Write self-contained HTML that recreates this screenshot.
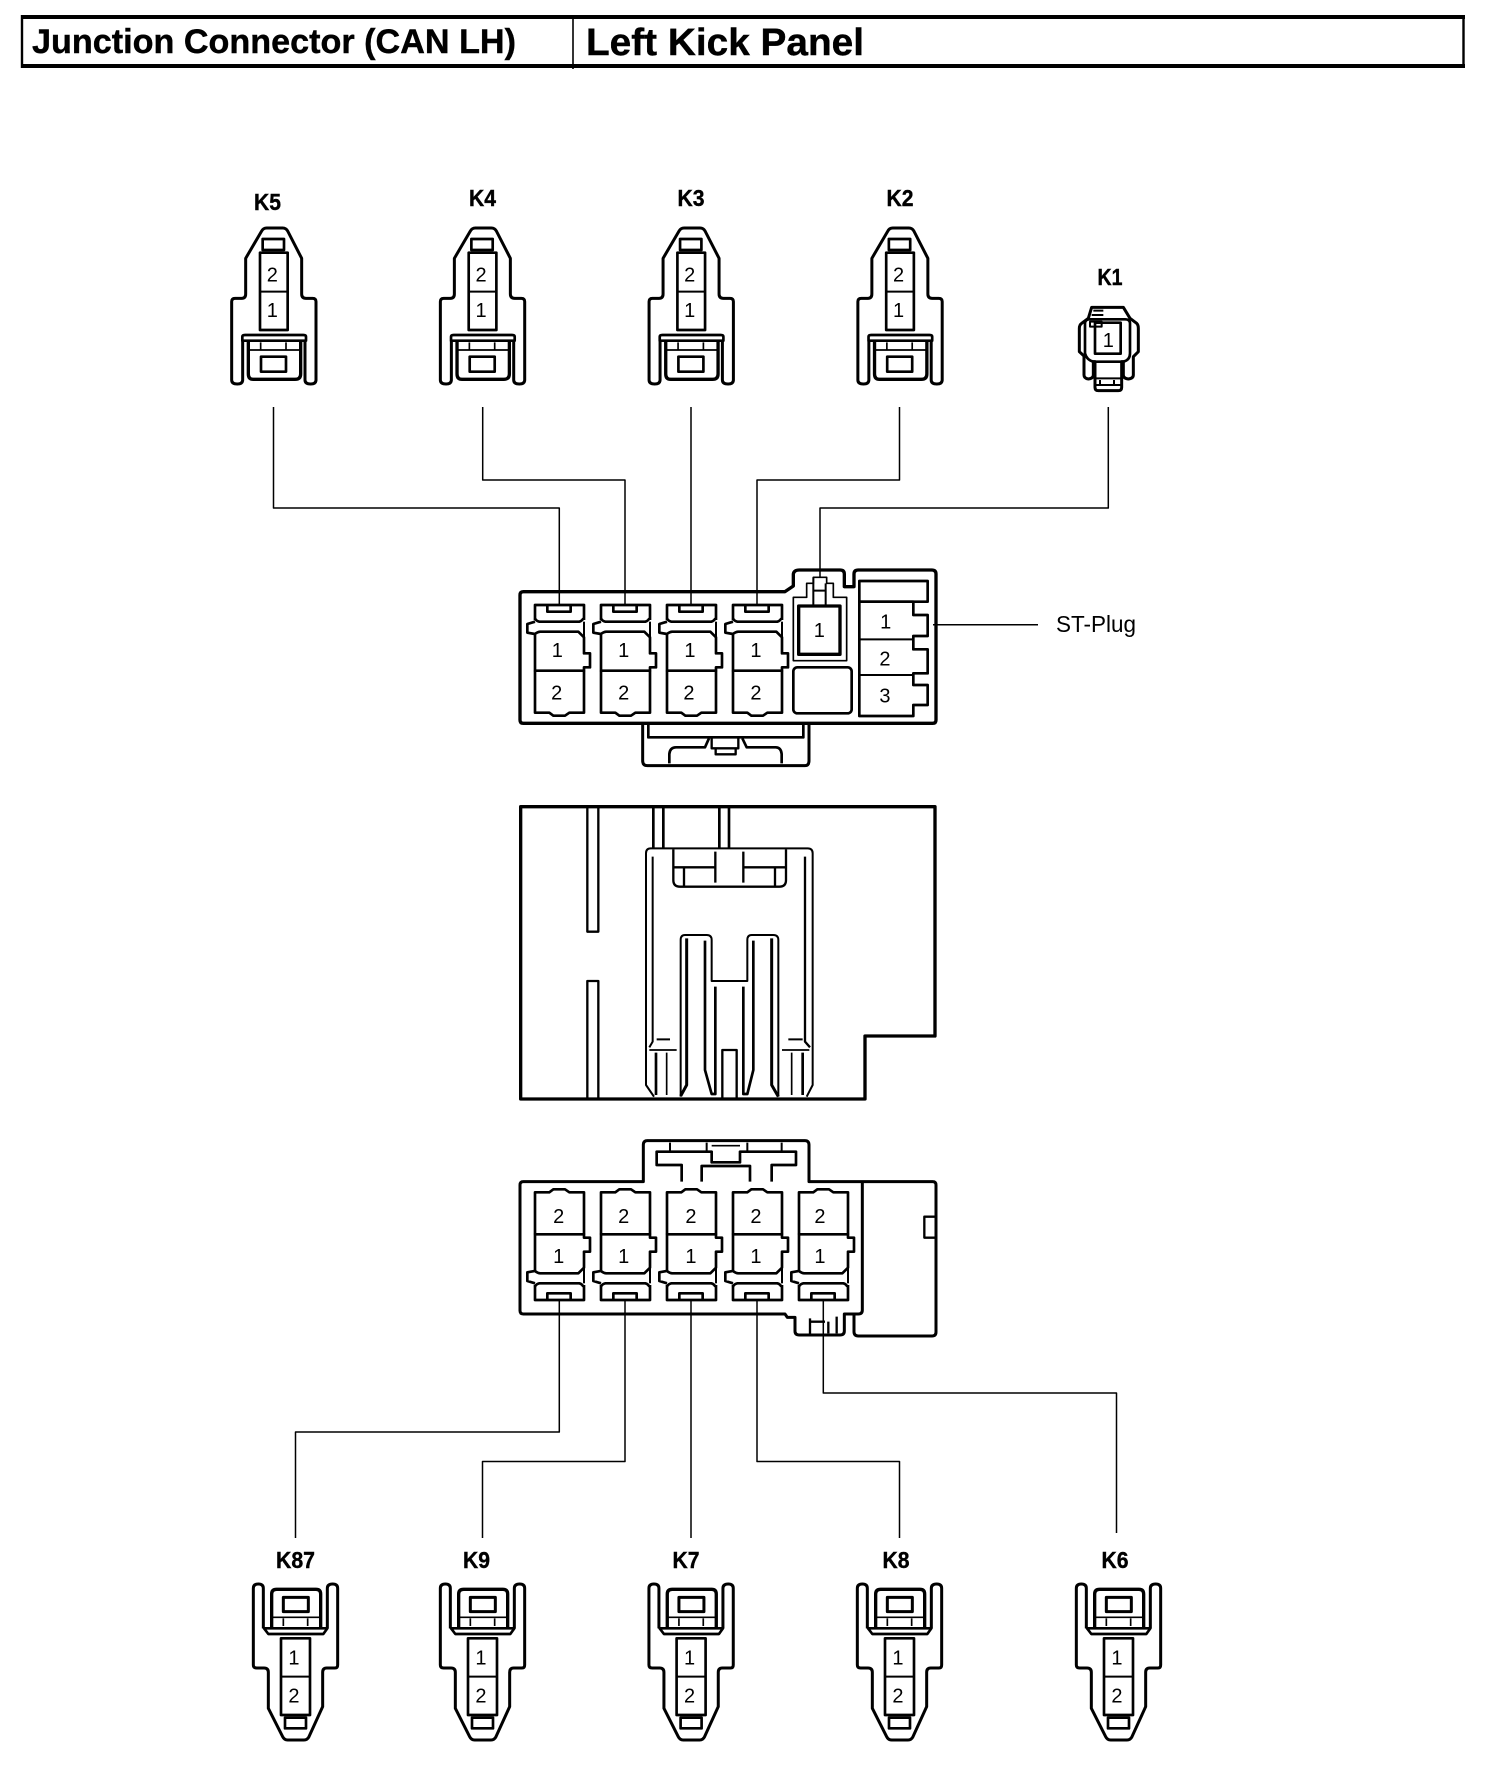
<!DOCTYPE html>
<html><head><meta charset="utf-8"><title>Junction Connector (CAN LH)</title>
<style>
html,body{margin:0;padding:0;background:#fff}
svg{display:block}
text{font-family:"Liberation Sans",sans-serif;fill:#000;stroke:none}
.b{font-weight:bold;stroke:#000;stroke-width:.4}
.z{font-size:60px;text-anchor:middle}
.l{font-size:23px;font-weight:bold;text-anchor:middle;stroke:#000;stroke-width:.4}
path,rect,line{fill:none;stroke:#000;stroke-linejoin:round}
.w{stroke-width:1.5}
</style></head><body>
<svg width="1504" height="1774" viewBox="0 0 1504 1774" xmlns="http://www.w3.org/2000/svg">
<defs>
<g id="top">
<path stroke-width="9" d="M98,512V630Q98,642 82,642Q65,642 65,630V395Q65,385 75,385H95Q107,385 107,372V265L155,183Q160,174 170,174H218Q228,174 233,183L275,265V372Q275,385 288,385H308Q318,385 318,395V630Q318,642 302,642Q285,642 285,630V512"/>
<path stroke-width="8" d="M97,512V500Q97,495 105,495H280Q288,495 288,500V512Z"/>
<path stroke-width="10" d="M115,512V612Q115,628 130,628H255Q272,628 272,612V512"/>
<path stroke-width="5" d="M115,540H272M152,517V538M228,517V538"/>
<rect stroke-width="8" x="153" y="560" width="75" height="45"/>
<rect stroke-width="8" x="158" y="207" width="64" height="33"/>
<rect stroke-width="8" x="150" y="248" width="83" height="232"/>
<path stroke-width="6" d="M150,365H233"/>
</g>
<g id="bot">
<path stroke-width="9" d="M70,265V145Q70,132 55,132Q40,132 40,145V375Q40,384 50,384H72Q85,384 85,397V505L128,590Q133,600 143,600H192Q202,600 207,590L248,500V397Q248,384 260,384H285Q293,384 293,375V145Q293,132 278,132Q262,132 262,145V265"/>
<path stroke-width="8" d="M72,265H262L250,282H85Z"/>
<path stroke-width="10" d="M95,262V162Q95,148 110,148H228Q242,148 242,162V262"/>
<path stroke-width="5" d="M95,232H242M130,235V258M203,235V258"/>
<rect stroke-width="9" x="130" y="172" width="75" height="43"/>
<rect stroke-width="8" x="135" y="533" width="63" height="32"/>
<rect stroke-width="8" x="123" y="295" width="87" height="230"/>
<path stroke-width="6" d="M123,410H210"/>
</g>
<g id="cav">
<path stroke-width="8" d="M75,210V165H222V210"/>
<path stroke-width="8" d="M112,165V185H182V165"/>
<path stroke-width="8" d="M75,205Q78,213 88,215H208Q216,213 220,205"/>
<path stroke-width="8" d="M75,215L52,222V248L75,252Q82,246 90,245H205L222,262V310H240V352H222V362H75V252"/>
<path stroke-width="6" d="M222,215V262"/>
<path stroke-width="8" d="M222,362V488H178L165,497H130L118,488H75V362"/>
</g>
</defs>

<!-- title -->
<path fill="none" stroke-width="4" d="M21,17H1465M21,66H1465"/>
<path stroke-width="2.4" d="M22,15V68M1463.5,15V68"/>
<path stroke-width="1.6" d="M573,15V69"/>
<text class="b" x="32" y="53" font-size="34" textLength="484" lengthAdjust="spacingAndGlyphs">Junction Connector (CAN LH)</text>
<text class="b" x="586" y="55" font-size="38" textLength="278" lengthAdjust="spacingAndGlyphs">Left Kick Panel</text>

<!-- labels -->
<text class="l" x="267.5" y="210" textLength="27" lengthAdjust="spacingAndGlyphs">K5</text>
<text class="l" x="482.5" y="206" textLength="27" lengthAdjust="spacingAndGlyphs">K4</text>
<text class="l" x="691" y="206" textLength="27" lengthAdjust="spacingAndGlyphs">K3</text>
<text class="l" x="900" y="206" textLength="27" lengthAdjust="spacingAndGlyphs">K2</text>
<text class="l" x="1110" y="285" textLength="25" lengthAdjust="spacingAndGlyphs">K1</text>
<text class="l" x="295.5" y="1568" textLength="39" lengthAdjust="spacingAndGlyphs">K87</text>
<text class="l" x="476.5" y="1568" textLength="27" lengthAdjust="spacingAndGlyphs">K9</text>
<text class="l" x="686" y="1568" textLength="27" lengthAdjust="spacingAndGlyphs">K7</text>
<text class="l" x="896" y="1568" textLength="27" lengthAdjust="spacingAndGlyphs">K8</text>
<text class="l" x="1115" y="1568" textLength="27" lengthAdjust="spacingAndGlyphs">K6</text>
<text x="1056" y="632" font-size="23" textLength="80" lengthAdjust="spacingAndGlyphs">ST-Plug</text>

<!-- wires -->
<path class="w" d="M273.5,407V508H559.3V605"/>
<path class="w" d="M482.7,407V480H625V605"/>
<path class="w" d="M691,407V605"/>
<path class="w" d="M899.5,407V480H757V605"/>
<path class="w" d="M1108.3,407V508H820V578"/>
<path class="w" d="M933,624.7H1038"/>
<path class="w" d="M559.3,1300V1432H295.5V1538"/>
<path class="w" d="M625,1300V1461.5H482.5V1538"/>
<path class="w" d="M691,1300V1538"/>
<path class="w" d="M757,1300V1461.5H899.5V1538"/>
<path class="w" d="M823.3,1300V1393H1116.5V1533"/>

<!-- upper plugs -->
<g transform="translate(210,170) scale(.33333)"><use href="#top"/><text class="z" x="187" y="334">2</text><text class="z" x="187" y="441">1</text></g>
<g transform="translate(418.7,170) scale(.33333)"><use href="#top"/><text class="z" x="187" y="334">2</text><text class="z" x="187" y="441">1</text></g>
<g transform="translate(627.4,170) scale(.33333)"><use href="#top"/><text class="z" x="187" y="334">2</text><text class="z" x="187" y="441">1</text></g>
<g transform="translate(836.2,170) scale(.33333)"><use href="#top"/><text class="z" x="187" y="334">2</text><text class="z" x="187" y="441">1</text></g>

<!-- K1 -->
<g transform="translate(1040,250) scale(.33333)">
<path stroke-width="9" d="M155,172H250L270,205L290,220Q295,225 295,235V305L280,320V375Q280,385 265,387Q250,385 250,375V335H245V412Q245,422 235,422H175Q165,422 165,412V335H160V375Q160,385 145,387Q132,385 132,375V318L118,305V235Q118,225 125,220L145,205Z"/>
<path stroke-width="8" d="M135,310V220Q135,208 150,208H255Q270,208 270,220V310Q270,330 250,335H160Q140,330 135,310Z"/>
<rect stroke-width="8" x="165" y="218" width="77" height="93"/>
<rect stroke-width="6" x="150" y="215" width="35" height="15"/>
<path stroke-width="6" d="M160,182H190M155,195H190M168,385H242M168,405H242M180,390V402M222,390V402"/>
<text class="z" x="205" y="291">1</text>
</g>

<!-- upper main connector -->
<g transform="translate(510,550) scale(.33333)">
<path stroke-width="10" d="M30,135Q30,125 40,125H825L850,108V72Q852,60 868,60H990Q1003,60 1003,72V110H1032V72Q1032,60 1045,60H1265Q1278,60 1278,72V510Q1278,520 1268,520H40Q30,520 30,510Z"/>
<path stroke-width="9" d="M398,522V632Q398,647 412,647H885Q897,647 897,632V522"/>
<path stroke-width="8" d="M415,522V562H880V522"/>
<path stroke-width="8" d="M478,640V612Q480,592 498,592H585L597,565M815,640V612Q813,592 797,592H710L697,565"/>
<path stroke-width="7" d="M605,565V595H685V565M617,595V613H677V595"/>
<use href="#cav"/>
<use href="#cav" x="198"/>
<use href="#cav" x="396"/>
<use href="#cav" x="594"/>
<path stroke-width="5" d="M850,142H890V100H910V82H950V100H970V142H1010V332H850Z"/>
<rect stroke-width="10" x="866" y="168" width="124" height="145"/>
<path stroke-width="6" d="M910,82V165M947,100V165M910,122H947"/>
<rect stroke-width="8" x="850" y="352" width="175" height="138" rx="12"/>
<rect stroke-width="8" x="1048" y="93" width="205" height="62"/>
<path stroke-width="8" d="M1048,155H1210V195H1253V258H1210V298H1253V370H1210V405H1253V465H1210V498H1048Z"/>
<path stroke-width="6" d="M1048,268H1210M1048,375H1210"/>
<text class="z" x="142" y="321">1</text><text class="z" x="341" y="321">1</text><text class="z" x="540" y="321">1</text><text class="z" x="738" y="321">1</text>
<text class="z" x="140" y="449">2</text><text class="z" x="341" y="449">2</text><text class="z" x="537" y="449">2</text><text class="z" x="738" y="449">2</text>
<text class="z" x="928" y="261">1</text>
<text class="z" x="1127" y="236">1</text><text class="z" x="1125" y="346">2</text><text class="z" x="1125" y="458">3</text>
</g>

<!-- middle body -->
<g transform="translate(510,790) scale(.33333)">
<path stroke-width="10" d="M32,50H1275V738H1065V927H32Z"/>
<path stroke-width="7" d="M232,50V425H265V50M232,927V573H265V927"/>
<path stroke-width="8" d="M430,50V175M460,50V175M628,50V175M657,50V175"/>
<path stroke-width="6" d="M432,920L408,885V190Q408,175 422,175H893Q908,175 908,190V885L890,920"/>
<path stroke-width="6" d="M428,200V755L418,772"/>
<path stroke-width="7" d="M885,200V755L900,772"/>
<path stroke-width="7" d="M490,178V270Q490,290 510,290H808Q828,290 828,270V178"/>
<path stroke-width="7" d="M490,232H615M700,232H825M616,185V278M700,185V278M522,232V290M795,232V290"/>
<path stroke-width="6" d="M512,920V450Q512,435 525,435H590Q605,435 605,450V573H712V450Q712,435 725,435H790Q805,435 805,450V920"/>
<path stroke-width="9" d="M512,918L530,885V445M785,445V885L805,920"/>
<path stroke-width="8" d="M585,452V840L605,912H616V590M730,452V840L712,912H700V590"/>
<path stroke-width="7" d="M637,925V780H680V925"/>
<path stroke-width="6" d="M440,748H480M835,748H878"/>
<path stroke-width="5" d="M418,780H500M816,780H898M470,788V915M845,788V915"/>
<path stroke-width="8" d="M438,788V915M878,788V915"/>
</g>

<!-- lower main connector -->
<g transform="translate(510,1130) scale(.33333)">
<path stroke-width="9" d="M30,165Q30,155 40,155H400V45Q400,32 412,32H885Q897,32 897,45V155H1268Q1278,155 1278,165V606Q1278,618 1266,618H1045Q1032,618 1032,605V555"/>
<path stroke-width="9" d="M30,165V542Q30,552 40,552H825L832,562H855V603Q855,615 868,615H990Q1003,615 1003,603V552H1045Q1057,552 1057,540V155"/>
<path stroke-width="8" d="M515,155V105H440V65H605V97H690V65H858V105H785V155M575,155V108H720V155"/>
<path stroke-width="6" d="M480,38V65M815,38V65M590,38V65M712,38V65"/>
<path stroke-width="5" d="M605,47H690"/>
<rect stroke-width="7" x="1243" y="260" width="35" height="63"/>
<path stroke-width="7" d="M900,565V612M900,575H945M980,560V610M955,575V610"/>
<g transform="translate(0,675) scale(1,-1)">
<use href="#cav"/>
<use href="#cav" x="198"/>
<use href="#cav" x="396"/>
<use href="#cav" x="594"/>
<use href="#cav" x="792"/>
</g>
<text class="z" x="146" y="279">2</text><text class="z" x="341" y="279">2</text><text class="z" x="543" y="279">2</text><text class="z" x="738" y="279">2</text><text class="z" x="930" y="279">2</text>
<text class="z" x="146" y="399">1</text><text class="z" x="341" y="399">1</text><text class="z" x="543" y="399">1</text><text class="z" x="738" y="399">1</text><text class="z" x="930" y="399">1</text>
</g>

<!-- lower plugs -->
<g transform="translate(240,1540) scale(.33333)"><use href="#bot"/><text class="z" x="162" y="373">1</text><text class="z" x="162" y="488">2</text></g>
<g transform="translate(427,1540) scale(.33333)"><use href="#bot"/><text class="z" x="162" y="373">1</text><text class="z" x="162" y="488">2</text></g>
<g transform="translate(635.6,1540) scale(.33333)"><use href="#bot"/><text class="z" x="162" y="373">1</text><text class="z" x="162" y="488">2</text></g>
<g transform="translate(844,1540) scale(.33333)"><use href="#bot"/><text class="z" x="162" y="373">1</text><text class="z" x="162" y="488">2</text></g>
<g transform="translate(1063,1540) scale(.33333)"><use href="#bot"/><text class="z" x="162" y="373">1</text><text class="z" x="162" y="488">2</text></g>
</svg>
</body></html>
